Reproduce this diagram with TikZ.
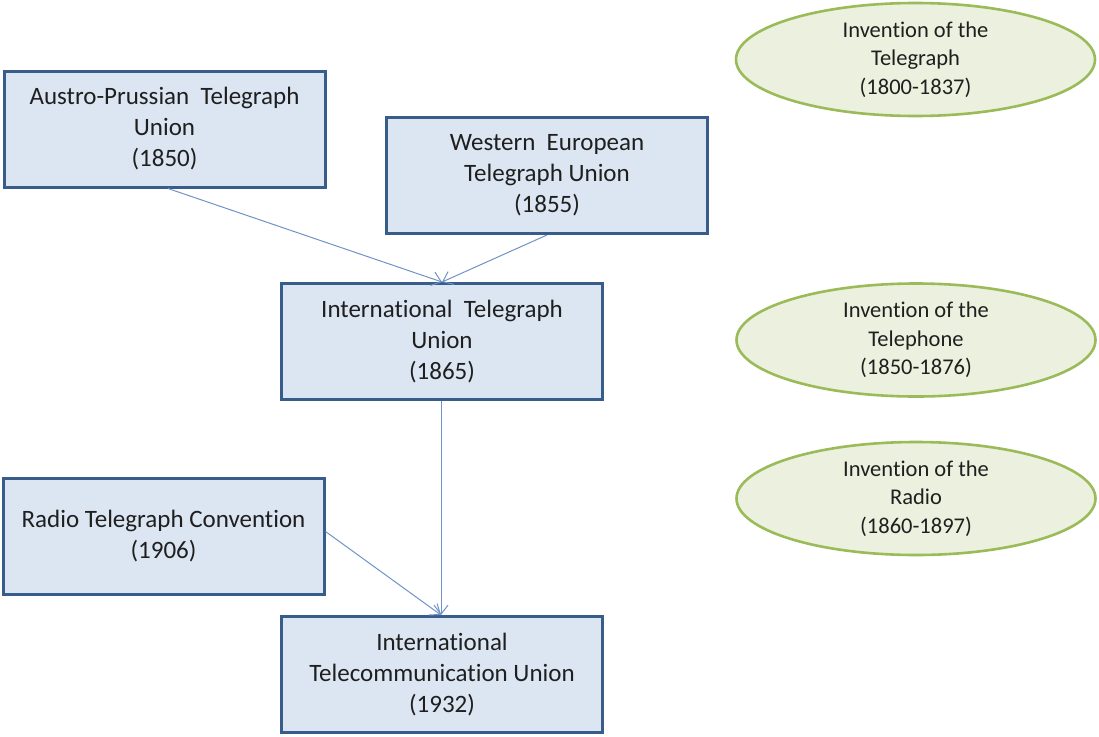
\documentclass[tikz,border=0pt]{standalone}
\usepackage{fontspec}
\setmainfont[Ligatures={NoCommon}]{Carlito}
\usetikzlibrary{shapes.geometric,arrows.meta}
\definecolor{boxfill}{HTML}{DCE6F2}
\definecolor{boxline}{HTML}{385D8A}
\definecolor{ellfill}{HTML}{EBF1DE}
\definecolor{ellline}{HTML}{9BBB59}
\definecolor{arrowc}{HTML}{6F93C6}
\definecolor{txt}{HTML}{1F1F1F}
\begin{document}
\begin{tikzpicture}[x=1pt,y=-1pt,
  orgbox/.style={draw=boxline, line width=3pt, fill=boxfill, minimum width=321pt, minimum height=116pt, inner sep=0pt, align=center, text=txt, font=\fontsize{25}{31}\selectfont},
  invent/.style={ellipse, draw=ellline, line width=2.6pt, fill=ellfill, minimum width=359pt, minimum height=113pt, inner sep=0pt, align=center, text=txt, font=\fontsize{22.5}{28.5}\selectfont},
  link/.style={draw=arrowc, line width=1pt, -{Straight Barb[length=9pt,width=14pt,line width=1pt]}}
]
\useasboundingbox (0,0) rectangle (1099,736);
\node[orgbox] (apu) at (164.5,129) {Austro-Prussian\ \ Telegraph\\Union\\(1850)};
\node[orgbox] (weu) at (547,175.5) {Western\ \ European\\Telegraph Union\\(1855)};
\node[orgbox] (itu) at (442,341.5) {International\ \ Telegraph\\Union\\(1865)};
\node[orgbox] (rtc) at (163.5,536.5) {Radio Telegraph Convention\\(1906)};
\node[orgbox] (itcu) at (442,674.5) {International\\Telecommunication Union\\(1932)};
\node[invent] (tg) at (915.5,59.5) {Invention of the\\Telegraph\\(1800-1837)};
\node[invent] (tp) at (916,340) {Invention of the\\Telephone\\(1850-1876)};
\node[invent] (rd) at (916,498.5) {Invention of the\\Radio\\(1860-1897)};
\coordinate (itutop) at (442,282);
\coordinate (itcutop) at (441,615);
\draw[link] ([xshift=3.5pt]apu.south) -- (itutop);
\draw[link] (weu.south) -- (itutop);
\draw[link] ([xshift=-1pt]itu.south) -- (itcutop);
\draw[link] ([yshift=5pt]rtc.east) -- (itcutop);
\end{tikzpicture}
\end{document}
